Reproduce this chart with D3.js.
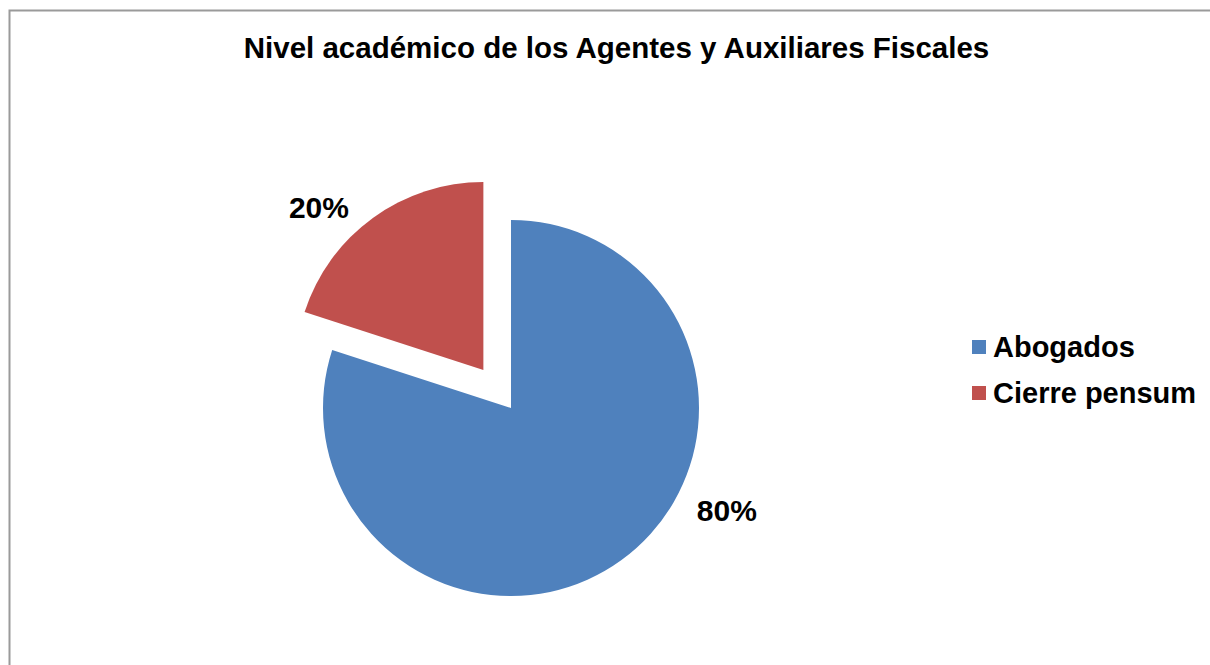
<!DOCTYPE html>
<html>
<head>
<meta charset="utf-8">
<script src="https://cdn.jsdelivr.net/npm/d3@7"></script>
<style>
  body { margin: 0; background: #fff; }
  svg { display: block; font-family: "Liberation Sans", Arial, sans-serif; }
</style>
</head>
<body>
<div id="container"></div>
<script>
/* DATA */
const title = "Nivel académico de los Agentes y Auxiliares Fiscales";
const categories = ["Abogados", "Cierre pensum"];
const values = [80, 20];
const colors = ["#4F81BD", "#C0504D"];
const explode = [0, 47];

/* CONSTANTS */
const width = 1210;
const height = 665;
const cx = 511, cy = 408, radius = 188;

const data = categories.map((c, i) => ({ category: c, value: values[i], i }));
const total = d3.sum(values);

const svg = d3.select("#container")
  .append("svg")
  .attr("width", width)
  .attr("height", height);

// chart frame
svg.append("rect")
  .attr("x", 9.5).attr("y", 10.5)
  .attr("width", width + 20).attr("height", height + 20)
  .attr("fill", "#fff")
  .attr("stroke", "#9a9a9a")
  .attr("stroke-width", 2);

// title
svg.append("text")
  .attr("x", 616.5).attr("y", 58)
  .attr("text-anchor", "middle")
  .attr("font-weight", "bold")
  .attr("font-size", 29.5)
  .text(title);

/* PIE */
const pie = d3.pie().value(d => d.value).sort(null);
const arc = d3.arc().innerRadius(0).outerRadius(radius);
const arcs = pie(data);

const mid = d => (d.startAngle + d.endAngle) / 2;
const shift = d => {
  const a = mid(d), r = explode[d.data.i];
  return [r * Math.sin(a), -r * Math.cos(a)];
};

const g = svg.append("g").attr("transform", `translate(${cx},${cy})`);

g.selectAll("path")
  .data(arcs)
  .join("path")
  .attr("d", arc)
  .attr("fill", d => colors[d.data.i])
  .attr("transform", d => `translate(${shift(d)})`);

// labels (outside, nudged like the spreadsheet's best fit)
const labelTweak = [-28.5, -9.5]; // degrees
const labelRadius = [238, 232];
g.selectAll("text.lbl")
  .data(arcs)
  .join("text")
  .attr("class", "lbl")
  .attr("transform", d => {
    const a = mid(d) + labelTweak[d.data.i] * Math.PI / 180;
    const r = labelRadius[d.data.i];
    const p = d3.arc().innerRadius(r).outerRadius(r).centroid({ startAngle: a, endAngle: a });
    const s = shift(d);
    return `translate(${p[0] + s[0] + 1},${p[1] + s[1]})`;
  })
  .attr("text-anchor", "middle")
  .attr("dy", "0.36em")
  .attr("font-weight", "bold")
  .attr("font-size", 30)
  .text(d => Math.round(d.data.value / total * 100) + "%");

/* LEGEND */
const legend = svg.append("g").attr("transform", "translate(972,340)");
const item = legend.selectAll("g")
  .data(data)
  .join("g")
  .attr("transform", (d, i) => `translate(0,${i * 46})`);
item.append("rect")
  .attr("width", 14).attr("height", 14)
  .attr("fill", d => colors[d.i]);
item.append("text")
  .attr("x", 21).attr("y", 17)
  .attr("font-weight", "bold")
  .attr("font-size", 29)
  .text(d => d.category);
</script>
</body>
</html>
